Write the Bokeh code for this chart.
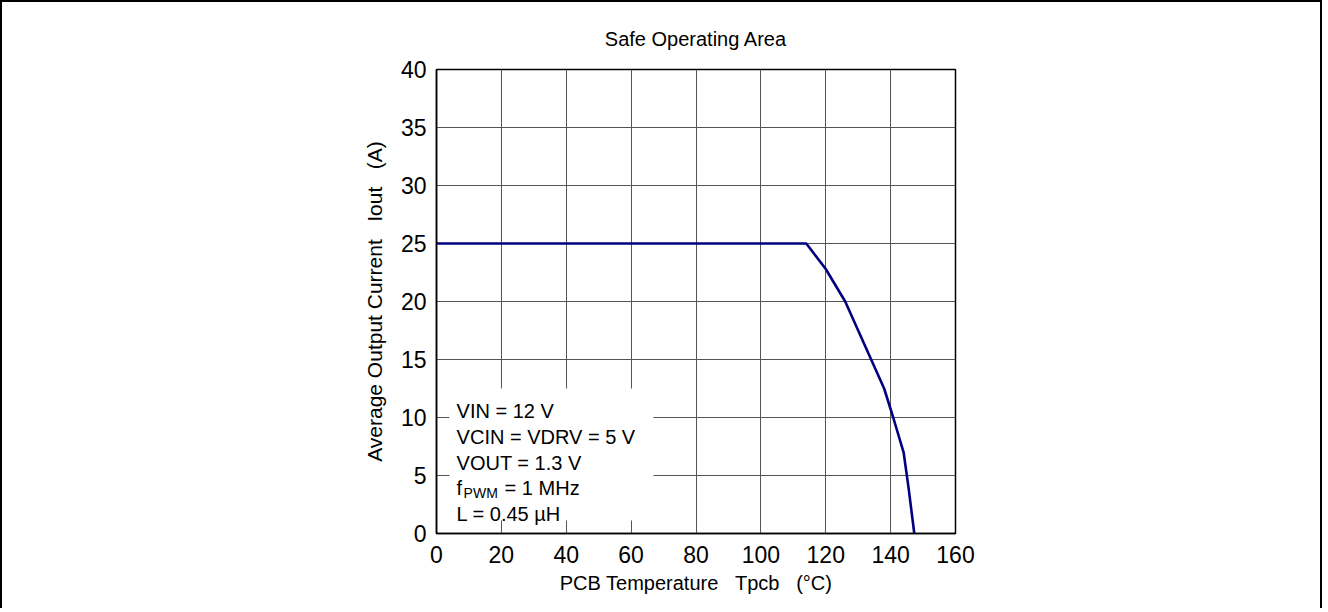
from bokeh.plotting import figure
from bokeh.models import BoxAnnotation, Label, FixedTicker, Range1d
from bokeh.embed import file_html
from bokeh.resources import INLINE

# Data: derating curve
temp_c = [0, 114, 120, 126, 134, 138, 140.8, 144, 145.5, 147.3]
iout_a = [25, 25, 22.8, 20, 15, 12.5, 10, 7, 4, 0]

x_ticks = [0, 20, 40, 60, 80, 100, 120, 140, 160]
y_ticks = [0, 5, 10, 15, 20, 25, 30, 35, 40]

title_text = "Safe Operating Area"
x_label = "PCB Temperature\u00a0\u00a0\u00a0Tpcb\u00a0\u00a0\u00a0(°C)"
y_label = "Average Output Current\u00a0\u00a0\u00a0Iout\u00a0\u00a0\u00a0(A)"

note_lines = ["VIN = 12 V", "VCIN = VDRV = 5 V", "VOUT = 1.3 V", None, "L = 0.45 µH"]

FONT = "Liberation Sans"
W, H = 1322, 608

p = figure(width=W, height=H, output_backend="svg", toolbar_location=None,
           x_range=Range1d(0, 160), y_range=Range1d(0, 40),
           min_border_left=434, min_border_right=W - 434 - 519,
           min_border_top=67, min_border_bottom=H - 67 - 464)
p.styles = {"border-left": "2px solid black", "border-right": "2px solid black",
            "border-top": "2px solid black"}

p.title.text = title_text
p.title.align = "center"
p.title.text_font = FONT
p.title.text_font_size = "20px"
p.title.text_font_style = "normal"
p.title.text_color = "black"
p.title.standoff = 40

for ax, ticks in ((p.xaxis, x_ticks), (p.yaxis, y_ticks)):
    ax.ticker = FixedTicker(ticks=ticks)
    ax.major_tick_in = 0
    ax.major_tick_out = 0
    ax.minor_tick_line_color = None
    ax.axis_line_color = "black"
    ax.axis_line_width = 1.5
    ax.major_label_text_font = FONT
    ax.major_label_text_font_size = "23px"
    ax.major_label_text_color = "black"
    ax.axis_label_text_font = FONT
    ax.axis_label_text_font_style = "normal"
    ax.axis_label_text_color = "black"

p.xaxis.axis_label = x_label
p.yaxis.axis_label = y_label
p.xaxis.axis_label_text_font_size = "20px"
p.yaxis.axis_label_text_font_size = "21px"
p.xaxis.major_label_standoff = 12
p.yaxis.major_label_standoff = 10
p.xaxis.axis_label_standoff = 6
p.yaxis.axis_label_standoff = 12

p.grid.grid_line_color = "#555555"
p.grid.grid_line_width = 1
p.outline_line_color = "black"
p.outline_line_width = 1.5

p.line(temp_c, iout_a, line_color="#000080", line_width=2.6)

# white box behind the conditions text
p.add_layout(BoxAnnotation(left=4.0, right=66.9, bottom=1.12, top=12.5,
                           fill_color="white", fill_alpha=1.0, line_color=None,
                           level="underlay"))

base_y = [10.6, 8.36, 6.12, 3.88, 1.64]
for txt, yy in zip(note_lines, base_y):
    if txt is None:
        continue
    p.add_layout(Label(x=6.2, y=yy, text=txt, text_font=FONT, text_font_size="20px",
                       text_baseline="alphabetic", text_color="black"))
# f_PWM line with subscript
p.add_layout(Label(x=6.2, y=base_y[3], text="f", text_font=FONT, text_font_size="20px",
                   text_baseline="alphabetic", text_color="black"))
p.add_layout(Label(x=6.2, y=base_y[3], x_offset=7, y_offset=-5, text="PWM", text_font=FONT,
                   text_font_size="14px", text_baseline="alphabetic", text_color="black"))
p.add_layout(Label(x=6.2, y=base_y[3], x_offset=48, text="= 1 MHz", text_font=FONT,
                   text_font_size="20px", text_baseline="alphabetic", text_color="black"))

open("out.html", "w").write(file_html(p, INLINE))
